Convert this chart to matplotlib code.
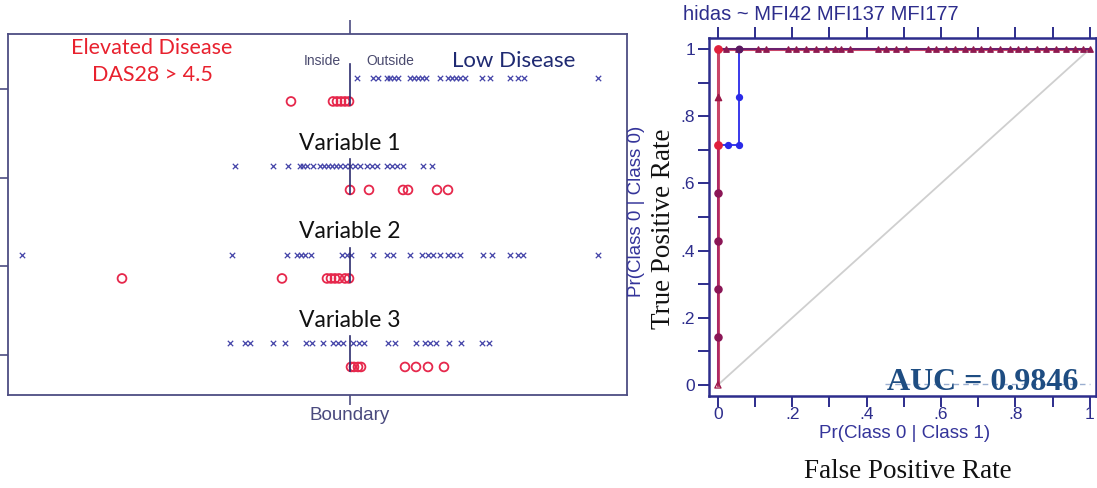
import matplotlib
matplotlib.use("Agg")
import matplotlib.pyplot as plt
from matplotlib.ticker import FixedLocator, FixedFormatter

W, H = 1097, 488

# ---------------- Left panel data (scores relative to boundary = 0) -------------
row_labels = ["", "Variable 1", "Variable 2", "Variable 3"]
low_disease = [
    [0.14, 0.46, 0.56, 0.74, 0.80, 0.88, 0.96, 1.20, 1.28, 1.36, 1.44, 1.52, 1.80,
     1.96, 2.04, 2.12, 2.20, 2.30, 2.64, 2.80, 3.20, 3.36, 3.48, 4.96],
    [-2.30, -1.54, -1.24, -1.00, -0.94, -0.86, -0.74, -0.60, -0.52, -0.44, -0.36,
     -0.28, -0.20, -0.10, 0.00, 0.10, 0.20, 0.34, 0.44, 0.54, 0.74, 0.84, 0.94,
     1.06, 1.46, 1.64],
    [-6.56, -2.36, -1.26, -1.06, -0.98, -0.90, -0.78, -0.16, -0.06, 0.02, 0.46,
     0.74, 0.86, 1.20, 1.44, 1.56, 1.66, 1.80, 1.96, 2.06, 2.20, 2.66, 2.84, 3.20,
     3.36, 3.46, 4.96],
    [-2.40, -2.10, -2.00, -1.54, -1.30, -0.88, -0.76, -0.54, -0.34, -0.24, -0.14,
     0.06, 0.18, 0.28, 0.76, 0.90, 1.32, 1.50, 1.60, 1.72, 1.98, 2.22, 2.64, 2.78],
]
elevated_disease = [
    [-1.18, -0.34, -0.26, -0.18, -0.10, -0.02],
    [0.00, 0.38, 1.06, 1.16, 1.74, 1.96],
    [-4.56, -1.36, -0.46, -0.38, -0.30, -0.22, -0.10, -0.02],
    [0.02, 0.08, 0.16, 0.22, 1.10, 1.32, 1.56, 1.88],
]
boundary_value = 0.0

# ---------------- Right panel data (ROC) ----------------
tpr_steps = [0.0, 0.143, 0.286, 0.429, 0.571, 0.714, 0.857, 1.0]
fpr_top = [0.0, 0.022, 0.054, 0.108, 0.130, 0.188, 0.211, 0.238, 0.265, 0.291,
           0.314, 0.332, 0.354, 0.430, 0.453, 0.480, 0.507, 0.565, 0.587, 0.614,
           0.637, 0.664, 0.686, 0.709, 0.731, 0.758, 0.785, 0.807, 0.830, 0.857,
           0.883, 0.910, 0.937, 0.960, 0.982, 1.0]
blue_fpr = [0.0, 0.0, 0.0, 0.0, 0.0, 0.0, 0.028, 0.056, 0.056, 0.056]
blue_tpr = [0.0, 0.143, 0.286, 0.429, 0.571, 0.714, 0.714, 0.714, 0.857, 1.0]
auc_value = 0.9846

fig = plt.figure(figsize=(W / 100, H / 100), dpi=100)


def px_axes(l, t, r, b):
    return fig.add_axes([l / W, 1 - b / H, (r - l) / W, (b - t) / H])


def ptext(x, y, s, **kw):
    fig.text(x / W, 1 - y / H, s, ha="center", va="center", **kw)


# ======================= LEFT PANEL =======================
frame_c = "#4d4d82"
ax = px_axes(8, 34, 627, 395)
ax.set_xlim(-6.84, 5.54)
ax.set_ylim(-3.452, 0.627)
for s in ax.spines.values():
    s.set_color(frame_c)
    s.set_linewidth(1.3)

off = 0.135
for i in range(4):
    yc = -i
    ax.scatter(low_disease[i], [yc + off] * len(low_disease[i]), marker="x",
               s=15, linewidths=0.9, color="#4444a8", zorder=3)
    ax.scatter(elevated_disease[i], [yc - off] * len(elevated_disease[i]),
               marker="o", s=40, facecolors="none", edgecolors="#e6284c",
               linewidths=1.3, zorder=3)
    top = yc + (0.29 if i == 0 else 0.21)
    ax.plot([boundary_value, boundary_value], [yc - 0.18, top],
            color="#2e2e6e", lw=1.2, zorder=4)
    if row_labels[i]:
        ax.text(boundary_value, yc + 0.39, row_labels[i], ha="center",
                va="center", fontsize=16.5, family="Lato", color="#111111")

ax.set_yticks([0, -1, -2, -3])
ax.set_yticklabels([])
ax.tick_params(axis="y", direction="out", length=8, width=1.2, color=frame_c)
ax.set_xticks([boundary_value])
ax.set_xticklabels(["Boundary"], fontsize=13.5, color="#4a4a7e",
                   family="Liberation Sans")
ax.tick_params(axis="x", direction="out", length=7, width=1.2, color=frame_c,
               pad=2, top=True)
for t in ax.xaxis.get_major_ticks():
    t.tick2line.set_markersize(10)

ptext(152, 48, "Elevated Disease", fontsize=15.5, family="Lato", color="#e8212e")
ptext(152, 75, "DAS28 > 4.5", fontsize=15.5, family="Lato", color="#e8212e")
ptext(322, 61, "Inside", fontsize=10, family="Liberation Sans", color="#4a4a6e")
ptext(390, 61, "Outside", fontsize=10, family="Liberation Sans", color="#4a4a6e")
ptext(514, 61, "Low Disease", fontsize=16, family="Lato", color="#1f2a72")

# ======================= RIGHT PANEL =======================
navy = "#2d2d8c"
rx = px_axes(709, 38, 1096, 396)
rx.set_xlim(-0.024, 1.017)
rx.set_ylim(-0.033, 1.033)
for s in rx.spines.values():
    s.set_color(navy)
    s.set_linewidth(1.8)

rx.plot([0, 1], [0, 1], color="#cfcfcf", lw=1.3, zorder=1)

red_fpr = [0.0] * len(tpr_steps) + fpr_top
red_tpr = tpr_steps + [1.0] * len(fpr_top)
rx.plot(blue_fpr + fpr_top, blue_tpr + [1.0] * len(fpr_top), color="#2a2ae8",
        lw=1.3, zorder=2)
rx.plot(red_fpr, red_tpr, color="#c0264e", lw=2.2, alpha=0.85, zorder=3)
rx.plot([0.0, 1.0], [1.0, 1.0], color="#6a1f6e", lw=1.4, zorder=3)

rx.scatter(blue_fpr[6:9], blue_tpr[6:9], s=18, color="#2a2ae8", zorder=4)
rx.scatter([0.0] * 4, tpr_steps[1:5], s=26, color="#8b1656", zorder=5)
rx.scatter([0.0, 0.0], [tpr_steps[5], tpr_steps[7]], s=28, color="#e0203c", zorder=5)
rx.scatter([0.0], [tpr_steps[6]], s=20, marker="^", color="#9b1848", zorder=5)
rx.scatter([0.0], [tpr_steps[0]], s=20, marker="^", facecolors="none",
           edgecolors="#9b1848", linewidths=0.9, zorder=5)
rx.scatter(fpr_top[1:], [1.0] * (len(fpr_top) - 1), s=15, marker="^",
           color="#8e1a50", zorder=5)
rx.scatter([0.056], [1.0], s=22, color="#5a1860", zorder=6)

ticks = [i / 10 for i in range(11)]
labels = ["0", "", ".2", "", ".4", "", ".6", "", ".8", "", "1"]
for axis in (rx.xaxis, rx.yaxis):
    axis.set_major_locator(FixedLocator(ticks))
    axis.set_major_formatter(FixedFormatter(labels))
rx.tick_params(axis="both", direction="out", length=8, width=1.4, color=navy,
               labelcolor=navy, labelsize=12.5)
rx.tick_params(axis="x", top=True, labeltop=False, pad=0)
rx.tick_params(axis="y", pad=2)
for lab in rx.get_xticklabels() + rx.get_yticklabels():
    lab.set_family("Liberation Sans")

ptext(821, 15, "hidas ~ MFI42 MFI137 MFI177", fontsize=14.5,
      family="Liberation Sans", color=navy)
ptext(905, 433, "Pr(Class 0 | Class 1)", fontsize=13.5, family="Liberation Sans",
      color="#34349a")
fig.text(636 / W, 1 - 211 / H, "Pr(Class 0 | Class 0)", rotation=90, ha="center",
         va="center", fontsize=13.5, family="Liberation Sans", color="#34349a")
fig.text(663 / W, 1 - 229 / H, "True Positive Rate", rotation=90, ha="center",
         va="center", fontsize=19.5, family="Liberation Serif", color="#111111")
ptext(908, 472, "False Positive Rate", fontsize=19.5, family="Liberation Serif",
      color="#111111")

rx.plot([0.45, 1.0], [0.004, 0.004], color="#9aaed0", lw=1, ls=(0, (4, 3)), zorder=2)
rx.text(0.97, 0.008, f"AUC = {auc_value:.4f}", ha="right", va="center",
        fontsize=23, fontweight="bold", family="Liberation Serif",
        color="#1e4d82", zorder=7)

fig.savefig("out.png", dpi=100)
